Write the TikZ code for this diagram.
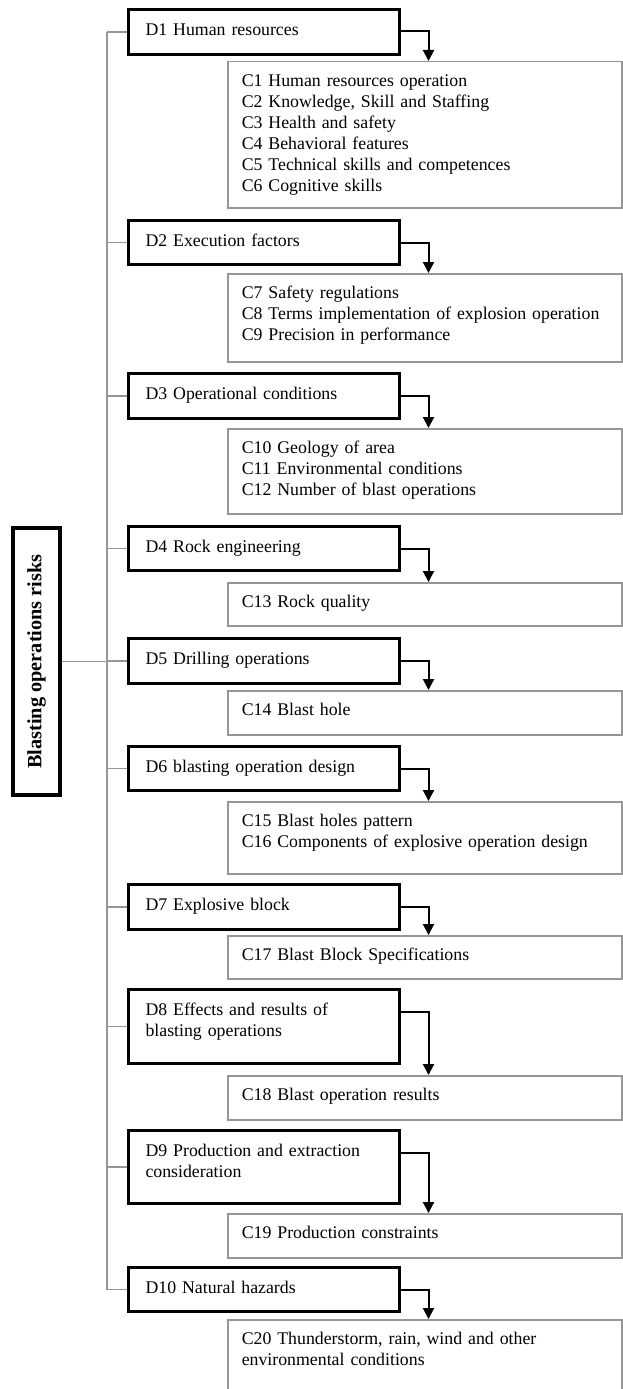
\documentclass[tikz,border=0pt]{standalone}
\usepackage{fontspec}
\setmainfont{Liberation Serif}
\usetikzlibrary{arrows.meta}
\definecolor{boxgray}{RGB}{150,150,150}

\begin{document}
\begin{tikzpicture}[x=1pt, y=-1pt,
  dbox/.style={draw=black, line width=3pt, anchor=north west, text width=237pt, align=left,
    inner xsep=17pt, inner ysep=0pt, text height=26pt, font=\fontsize{17.8}{21}\selectfont},
  cbox/.style={draw=boxgray, line width=1.5pt, anchor=north west, text width=366pt, align=left,
    inner xsep=14pt, inner ysep=0pt, text height=25pt, font=\fontsize{17.8}{21}\selectfont},
  rootbox/.style={draw=black, line width=4pt, rotate=90, minimum width=267pt, minimum height=47pt,
    inner sep=0pt, font=\bfseries\fontsize{20.3}{23}\selectfont},
  trunk/.style={draw=boxgray, line width=1.5pt},
  link/.style={draw=black, line width=2pt, -{Triangle[length=11pt,width=11pt]}}]
	\useasboundingbox (0,0) rectangle (622,1389);

	% root and the two guide coordinates
	\node[rootbox] (root) at (36.5,661.5) {Blasting operations risks};
	\coordinate (sp) at (107,0);
	\coordinate (ax) at (428.5,0);

	% dimensions
	\node[dbox, text depth=19pt] (d1) at (127,8) {D1 Human resources};
	\node[dbox, text depth=18pt] (d2) at (127,219) {D2 Execution factors};
	\node[dbox, text depth=19pt] (d3) at (127,372) {D3 Operational conditions};
	\node[dbox, text depth=18pt] (d4) at (127,525) {D4 Rock engineering};
	\node[dbox, text depth=19pt] (d5) at (127,637) {D5 Drilling operations};
	\node[dbox, text depth=18pt] (d6) at (127,745) {D6 blasting operation design};
	\node[dbox, text depth=19pt] (d7) at (127,883) {D7 Explosive block};
	\node[dbox, text depth=48pt] (d8) at (127,988) {D8 Effects and results of\\blasting operations};
	\node[dbox, text depth=47pt] (d9) at (127,1129) {D9 Production and extraction\\consideration};
	\node[dbox, text depth=18pt] (d10) at (127,1266) {D10 Natural hazards};

	% criteria
	\node[cbox, text depth=121pt] (c1) at (227,61) {C1 Human resources operation\\C2 Knowledge, Skill and Staffing\\C3 Health and safety\\C4 Behavioral features\\C5 Technical skills and competences\\C6 Cognitive skills};
	\node[cbox, text depth=63pt] (c7) at (227,273) {C7 Safety regulations\\C8 Terms implementation of explosion operation\\C9 Precision in performance};
	\node[cbox, text depth=60pt] (c10) at (227,428) {C10 Geology of area\\C11 Environmental conditions\\C12 Number of blast operations};
	\node[cbox, text depth=18pt] (c13) at (227,582) {C13 Rock quality};
	\node[cbox, text depth=19pt] (c14) at (227,690) {C14 Blast hole};
	\node[cbox, text depth=47pt] (c15) at (227,801) {C15 Blast holes pattern\\C16 Components of explosive operation design};
	\node[cbox, text depth=18pt] (c17) at (227,935) {C17 Blast Block Specifications};
	\node[cbox, text depth=19pt] (c18) at (227,1075) {C18 Blast operation results};
	\node[cbox, text depth=19pt] (c19) at (227,1213) {C19 Production constraints};
	\node[cbox, text depth=60pt] (c20) at (227,1319) {C20 Thunderstorm, rain, wind and other\\environmental conditions};

	% tree
	\draw[trunk] (root.south) -- (root.south -| sp);
	\draw[trunk] (d1.west -| sp) -- (d10.west -| sp);
	\draw[trunk] (d1.west -| sp) -- (d1.west);
	\draw[trunk] (d2.west -| sp) -- (d2.west);
	\draw[trunk] (d3.west -| sp) -- (d3.west);
	\draw[trunk] (d4.west -| sp) -- (d4.west);
	\draw[trunk] (d5.west -| sp) -- (d5.west);
	\draw[trunk] (d6.west -| sp) -- (d6.west);
	\draw[trunk] (d7.west -| sp) -- (d7.west);
	\draw[trunk] (d8.west -| sp) -- (d8.west);
	\draw[trunk] (d9.west -| sp) -- (d9.west);
	\draw[trunk] (d10.west -| sp) -- (d10.west);

	% arrows
	\draw[link] ([yshift=4pt]d1.base east) -| (ax |- c1.north);
	\draw[link] ([yshift=4pt]d2.base east) -| (ax |- c7.north);
	\draw[link] ([yshift=4pt]d3.base east) -| (ax |- c10.north);
	\draw[link] ([yshift=4pt]d4.base east) -| (ax |- c13.north);
	\draw[link] ([yshift=4pt]d5.base east) -| (ax |- c14.north);
	\draw[link] ([yshift=4pt]d6.base east) -| (ax |- c15.north);
	\draw[link] ([yshift=4pt]d7.base east) -| (ax |- c17.north);
	\draw[link] ([yshift=4pt]d8.base east) -| (ax |- c18.north);
	\draw[link] ([yshift=4pt]d9.base east) -| (ax |- c19.north);
	\draw[link] ([yshift=4pt]d10.base east) -| (ax |- c20.north);
\end{tikzpicture}
\end{document}
